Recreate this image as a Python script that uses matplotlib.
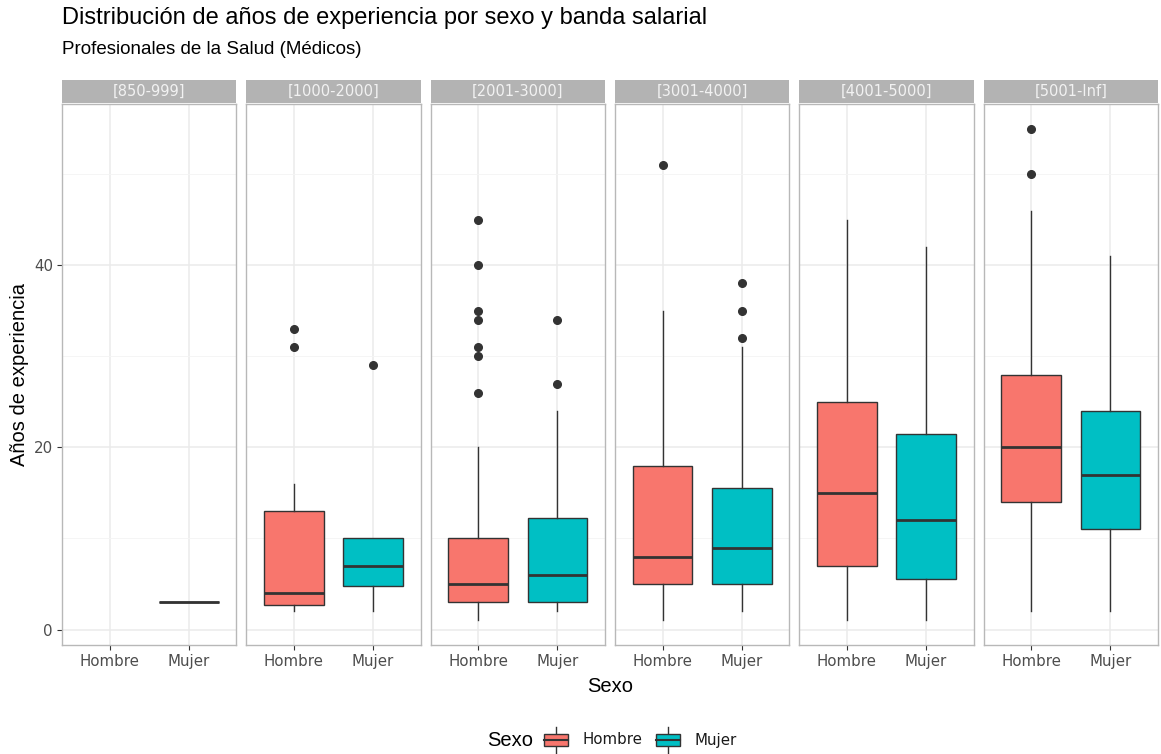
import matplotlib
matplotlib.use("Agg")
import matplotlib.pyplot as plt
from matplotlib.patches import Rectangle

# Salary bands (facets) and sexes (x categories)
bandas = ["[850-999]", "[1000-2000]", "[2001-3000]", "[3001-4000]", "[4001-5000]", "[5001-Inf]"]
sexos = ["Hombre", "Mujer"]

# Box statistics per band: [Hombre, Mujer]; None = no data
q1 = [[None, 3], [2.7, 4.8], [3, 3], [5, 5], [7, 5.5], [14, 11]]
medianas = [[None, 3], [4, 7], [5, 6], [8, 9], [15, 12], [20, 17]]
q3 = [[None, 3], [13, 10], [10, 12.2], [18, 15.5], [25, 21.5], [28, 24]]
bigote_inf = [[None, 3], [2, 2], [1, 2], [1, 2], [1, 1], [2, 2]]
bigote_sup = [[None, 3], [16, 10], [20, 24], [35, 31], [45, 42], [46, 41]]
atipicos = [
    [[], []],
    [[33, 31], [29]],
    [[45, 40, 35, 34, 31, 30, 26], [34, 27]],
    [[51], [38, 35, 32]],
    [[], []],
    [[55, 50], []],
]

colores = {"Hombre": "#F8766D", "Mujer": "#00BFC4"}
borde = "#333333"

W, H = 1161, 754
fig = plt.figure(figsize=(W / 100, H / 100), dpi=100)
fig.patch.set_facecolor("white")

left0, right0 = 62, 1158
gap = 10
pw = (right0 - left0 - gap * (len(bandas) - 1)) / len(bandas)
top_px, bot_px = 104, 645
strip_top = 80

ymin, ymax = -1.7, 57.7
ax0 = None
for i, banda in enumerate(bandas):
    x0 = left0 + i * (pw + gap)
    ax = fig.add_axes([x0 / W, 1 - bot_px / H, pw / W, (bot_px - top_px) / H],
                      sharey=ax0)
    if ax0 is None:
        ax0 = ax
    ax.set_xlim(0.4, 2.6)
    ax.set_ylim(ymin, ymax)
    ax.set_yticks([0, 20, 40])
    ax.set_yticks([10, 30, 50], minor=True)
    ax.grid(True, which="major", color="#EBEBEB", lw=1.1, zorder=0)
    ax.grid(True, which="minor", axis="y", color="#F4F4F4", lw=0.6, zorder=0)
    ax.set_axisbelow(True)
    for s in ax.spines.values():
        s.set_color("#B8B8B8")
        s.set_linewidth(1.0)

    stats, pos, cols = [], [], []
    for j, sexo in enumerate(sexos):
        if medianas[i][j] is None:
            continue
        stats.append(dict(med=medianas[i][j], q1=q1[i][j], q3=q3[i][j],
                          whislo=bigote_inf[i][j], whishi=bigote_sup[i][j],
                          fliers=atipicos[i][j], label=sexo))
        pos.append(j + 1)
        cols.append(colores[sexo])
    if stats:
        bp = ax.bxp(stats, positions=pos, widths=0.75, patch_artist=True,
                    showcaps=False,
                    boxprops=dict(edgecolor=borde, linewidth=1.0),
                    medianprops=dict(color=borde, linewidth=2.0),
                    whiskerprops=dict(color=borde, linewidth=1.0),
                    flierprops=dict(marker="o", markerfacecolor=borde,
                                    markeredgecolor=borde, markersize=5.5))
        for patch, c in zip(bp["boxes"], cols):
            patch.set_facecolor(c)

    ax.set_xticks([1, 2])
    ax.set_xticklabels(sexos, fontsize=10.8, color="#4D4D4D")
    ax.tick_params(axis="both", which="major", length=3.5, color=borde, pad=3)
    ax.tick_params(axis="y", which="minor", length=0)
    if i == 0:
        ax.tick_params(axis="y", labelsize=10.8, labelcolor="#4D4D4D")
    else:
        ax.tick_params(axis="y", labelleft=False, length=0)

    # facet strip
    sax = fig.add_axes([x0 / W, 1 - (top_px - 1) / H, pw / W, (top_px - 1 - strip_top) / H])
    sax.set_xlim(0, 1)
    sax.set_ylim(0, 1)
    sax.add_patch(Rectangle((0, 0), 1, 1, facecolor="#B3B3B3", edgecolor="none"))
    sax.text(0.5, 0.5, banda, ha="center", va="center", color="#F2F2F2", fontsize=10.5)
    sax.axis("off")

# Titles
fig.text(62 / W, 1 - 18 / H, "Distribución de años de experiencia por sexo y banda salarial",
         family="Liberation Sans", fontsize=17, va="center", ha="left")
fig.text(62 / W, 1 - 50 / H, "Profesionales de la Salud (Médicos)",
         family="Liberation Sans", fontsize=13.5, va="center", ha="left")

# Axis titles
fig.text((left0 + right0) / 2 / W, 1 - 686 / H, "Sexo", family="Liberation Sans",
         fontsize=14.5, ha="center", va="center")
fig.text(20 / W, 1 - (top_px + bot_px) / 2 / H, "Años de experiencia", family="Liberation Sans",
         fontsize=14.5, ha="center", va="center", rotation=90)

# Legend drawn in figure pixel coordinates
lax = fig.add_axes([0, 0, 1, 1], zorder=-1)
lax.set_xlim(0, W)
lax.set_ylim(H, 0)
lax.axis("off")
ly = 740
lax.text(487, ly, "Sexo", family="Liberation Sans", fontsize=14.5, ha="left", va="center")
key_x = {"Hombre": 544, "Mujer": 656}
for s in sexos:
    kx = key_x[s]
    kw, kh = 24, 12
    lax.plot([kx + kw / 2, kx + kw / 2], [ly - 13, ly + 13], color=borde, lw=1.0)
    lax.add_patch(Rectangle((kx, ly - kh / 2), kw, kh, facecolor=colores[s],
                            edgecolor=borde, lw=1.0, zorder=3))
    lax.plot([kx, kx + kw], [ly, ly], color=borde, lw=1.5, zorder=4)
    lax.text(kx + kw + 14, ly, s, fontsize=10.8, color="#1A1A1A", ha="left", va="center")

fig.savefig("out.png", dpi=100, facecolor="white")
